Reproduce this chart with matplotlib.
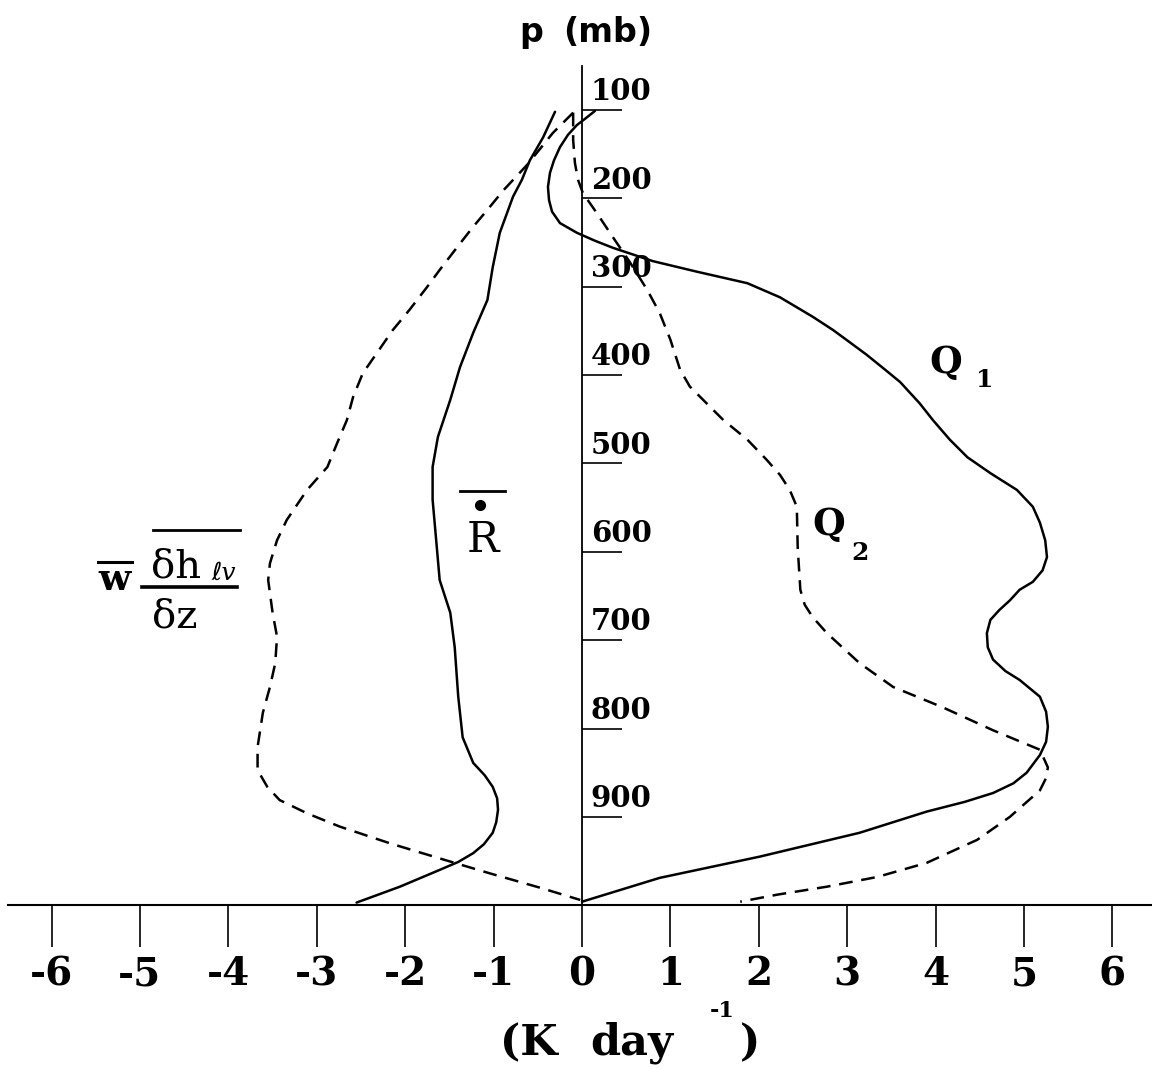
import matplotlib
matplotlib.use('Agg')
import matplotlib.pyplot as plt
from matplotlib.lines import Line2D

plt.rcParams['axes.unicode_minus'] = False

# ---------------- data (K/day vs pressure in mb) ----------------
q1_x = [0.147, 0.034, -0.057, -0.158, -0.249, -0.317, -0.362, -0.385, -0.373, -0.339, -0.249,
        -0.057, 0.147, 0.351, 0.80, 1.30, 1.87, 2.24, 2.61, 2.84, 2.99, 3.22, 3.43, 3.60,
        3.82, 3.97, 4.16, 4.36, 4.62, 4.92, 5.10, 5.18, 5.24, 5.26, 5.21, 5.10, 4.95, 4.84,
        4.72, 4.62, 4.58, 4.59, 4.65, 4.79, 4.95, 5.18, 5.25, 5.27, 5.25, 5.18, 5.03, 4.88,
        4.65, 4.33, 3.90, 3.14, 2.01, 0.88, 0.0]
q1_p = [101, 110, 117, 128, 142, 157, 171, 187, 202, 215, 228,
        239, 248, 256, 271, 283, 296, 312, 334, 349, 360, 377, 394, 408,
        432, 451, 473, 493, 511, 530, 549, 567, 587, 606, 621, 634, 643, 655,
        666, 677, 692, 708, 722, 735, 745, 764, 781, 798, 815, 830, 850, 862,
        873, 883, 894, 918, 945, 969, 996]

q2_x = [-0.10, -0.10, -0.08, -0.045, 0.01, 0.17, 0.35, 0.54, 0.74, 0.88, 1.00, 1.11, 1.22,
        1.37, 1.60, 1.87, 2.09, 2.24, 2.35, 2.43, 2.44, 2.47, 2.52, 2.61, 2.77, 3.14, 3.52,
        4.08, 4.65, 5.18, 5.27, 5.25, 5.18, 4.84, 4.47, 3.90, 3.34, 2.77, 2.21, 1.79]
q2_p = [103, 134, 160, 179, 194, 217, 244, 272, 304, 330, 360, 394, 413,
        428, 451, 473, 496, 513, 530, 549, 595, 643, 660, 674, 692, 726, 753,
        776, 802, 824, 844, 856, 870, 900, 926, 952, 968, 979, 988, 996]

r_x = [-0.305, -0.44, -0.59, -0.68, -0.78, -0.93, -1.01, -1.07, -1.23, -1.38, -1.49, -1.63,
       -1.69, -1.69, -1.66, -1.61, -1.49, -1.44, -1.40, -1.35, -1.23, -1.10, -1.01, -0.96,
       -0.95, -0.97, -1.01, -1.11, -1.23, -1.40, -1.61, -2.06, -2.55]
r_p = [102, 131, 157, 179, 198, 239, 278, 315, 352, 391, 428, 470,
       504, 541, 575, 632, 669, 708, 764, 810, 839, 853, 866, 879,
       892, 906, 918, 931, 941, 951, 960, 979, 997]

w_x = [-0.10, -0.33, -0.62, -0.89, -1.07, -1.23, -1.41, -1.61, -1.75, -1.95, -2.14, -2.32,
       -2.48, -2.59, -2.66, -2.77, -2.88, -3.11, -3.34, -3.45, -3.53, -3.55, -3.50, -3.45,
       -3.47, -3.53, -3.61, -3.67, -3.67, -3.56, -3.42, -3.11, -2.74, -2.17, -1.61, -1.04,
       -0.48, -0.02]
w_p = [103, 126, 162, 191, 213, 232, 255, 281, 300, 326, 349, 375,
       398, 425, 451, 477, 504, 530, 564, 587, 613, 632, 669, 696,
       726, 753, 782, 821, 847, 866, 881, 896, 911, 930, 947, 964,
       980, 994]

x_ticks = [-6, -5, -4, -3, -2, -1, 0, 1, 2, 3, 4, 5, 6]
x_ticklabels = ['-6', '-5', '-4', '-3', '-2', '-1', '0', '1', '2', '3', '4', '5', '6']
p_ticks = [100, 200, 300, 400, 500, 600, 700, 800, 900]
p_ticklabels = ['100', '200', '300', '400', '500', '600', '700', '800', '900']

# ---------------- figure ----------------
W, H = 1152, 1069
PX_PER_K = 88.4
PX_PER_MB = 0.8836
X0, Y100 = 582, 110

fig = plt.figure(figsize=(W / 100, H / 100), dpi=100)
ax = fig.add_axes([0, 0, 1, 1])
ax.set_xlim(-X0 / PX_PER_K, (W - X0) / PX_PER_K)
ax.set_ylim(100 + (H - Y100) / PX_PER_MB, 100 - Y100 / PX_PER_MB)
ax.patch.set_visible(False)

SERIF = 'DejaVu Serif'
lw = 1.8
ax.plot(q1_x, q1_p, color='black', lw=lw, solid_joinstyle='round', solid_capstyle='round')
ax.plot(r_x, r_p, color='black', lw=lw, solid_joinstyle='round', solid_capstyle='round')
ax.plot(q2_x, q2_p, color='black', lw=lw, linestyle=(0, (5.5, 3.5)), dash_joinstyle='round')
ax.plot(w_x, w_p, color='black', lw=lw, linestyle=(0, (5.5, 3.5)), dash_joinstyle='round')

# spines
for s in ('top', 'right'):
    ax.spines[s].set_visible(False)
ax.spines['left'].set_position(('data', 0))
ax.spines['left'].set_bounds(50, 1000)
ax.spines['left'].set_linewidth(1.3)
ax.spines['bottom'].set_position(('data', 1000))
ax.spines['bottom'].set_bounds(-6.49, (W - X0) / PX_PER_K)
ax.spines['bottom'].set_linewidth(1.5)

ax.set_xticks(x_ticks)
ax.set_xticklabels(x_ticklabels, fontfamily=SERIF, fontsize=28, fontweight='bold')
ax.tick_params(axis='x', direction='out', length=30, width=1.2, pad=6)

ax.set_yticks(p_ticks)
ax.tick_params(axis='y', direction='in', length=29, width=1.2, labelleft=False)
for p, lab in zip(p_ticks, p_ticklabels):
    ax.text(0.1, p - 11, lab, fontfamily=SERIF, fontsize=21, fontweight='bold',
            ha='left', va='baseline')


def fp(x, y):
    return (x / W, 1 - y / H)


def ftext(x, y, s, **kw):
    fig.text(*fp(x, y), s, **kw)


def fline(x1, x2, y, lw=1.8):
    a, b = fp(x1, y)
    c, d = fp(x2, y)
    fig.add_artist(Line2D([a, c], [b, d], color='black', lw=lw))


# p (mb)
ftext(519, 42, 'p', fontfamily='DejaVu Sans', fontweight='bold', fontsize=24,
      ha='left', va='baseline')
ftext(563, 42, '(mb)', fontfamily='DejaVu Sans', fontweight='bold', fontsize=24,
      ha='left', va='baseline')

# x-axis label
ftext(500, 1055, '(K', fontfamily=SERIF, fontweight='bold', fontsize=31, ha='left', va='baseline')
ftext(590, 1055, 'day', fontfamily=SERIF, fontweight='bold', fontsize=31, ha='left', va='baseline')
ftext(710, 1017, '-1', fontfamily=SERIF, fontweight='bold', fontsize=16, ha='left', va='baseline')
ftext(740, 1055, ')', fontfamily=SERIF, fontweight='bold', fontsize=31, ha='left', va='baseline')

# Q1, Q2
ftext(929, 373, 'Q', fontfamily=SERIF, fontweight='bold', fontsize=27, ha='left', va='baseline')
ftext(976, 387, '1', fontfamily=SERIF, fontweight='bold', fontsize=18, ha='left', va='baseline')
ftext(812, 535, 'Q', fontfamily=SERIF, fontweight='bold', fontsize=27, ha='left', va='baseline')
ftext(851, 560, '2', fontfamily=SERIF, fontweight='bold', fontsize=18, ha='left', va='baseline')

# R-dot with overbar
ftext(483, 552, 'R', fontfamily=SERIF, fontsize=31, ha='center', va='baseline')
fline(460, 505, 491, lw=2.0)
fig.add_artist(Line2D([fp(480, 505)[0]], [fp(480, 505)[1]], marker='o', ms=7,
                      color='black', lw=0))

# w-bar * overbar(dh_lv)/dz
ftext(115, 590, 'w', fontfamily=SERIF, fontweight='bold', fontsize=27, ha='center', va='baseline')
fline(98, 132, 562, lw=2.2)
ftext(151, 577, 'δh', fontfamily=SERIF, fontsize=29, ha='left', va='baseline')
ftext(211, 580, 'ℓv', family=['DejaVu Serif', 'DejaVu Sans'], fontstyle='italic',
      fontsize=18, ha='left', va='baseline')
fline(153, 240, 530, lw=2.0)
fline(142, 237, 587, lw=2.6)
ftext(152, 627, 'δz', fontfamily=SERIF, fontsize=29, ha='left', va='baseline')

fig.savefig('out.png', dpi=100)
